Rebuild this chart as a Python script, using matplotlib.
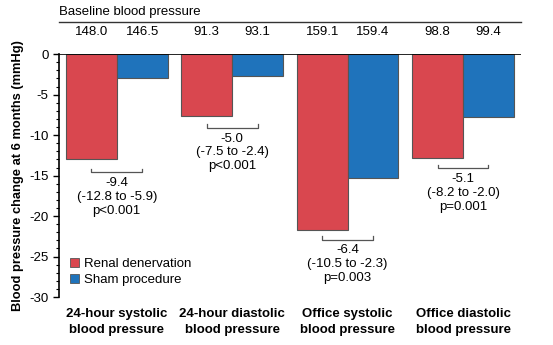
import matplotlib
matplotlib.use("Agg")
import matplotlib.pyplot as plt
import numpy as np
from matplotlib.patches import Patch
from matplotlib.ticker import MultipleLocator

plt.rcParams['font.family'] = ['Liberation Sans', 'DejaVu Sans']

# Data
categories = ['24-hour systolic\nblood pressure', '24-hour diastolic\nblood pressure',
              'Office systolic\nblood pressure', 'Office diastolic\nblood pressure']
renal = [-13.0, -7.65, -21.7, -12.8]
sham = [-3.0, -2.7, -15.3, -7.8]
baseline_renal = ['148.0', '91.3', '159.1', '98.8']
baseline_sham = ['146.5', '93.1', '159.4', '99.4']
diff_text = ['-9.4\n(-12.8 to -5.9)\np<0.001',
             '-5.0\n(-7.5 to -2.4)\np<0.001',
             '-6.4\n(-10.5 to -2.3)\np=0.003',
             '-5.1\n(-8.2 to -2.0)\np=0.001']
bracket_y = [-14.6, -9.1, -22.9, -14.1]

red = '#d9474f'
blue = '#1f73bb'
edge = '#555555'

fig = plt.figure(figsize=(5.53, 3.45), dpi=100)
ax = fig.add_axes([0.1067, 0.139, 0.835, 0.704])

x = np.arange(len(categories))
w = 0.44
ax.bar(x - w / 2, renal, w, color=red, edgecolor=edge, linewidth=0.8, label='Renal denervation')
ax.bar(x + w / 2, sham, w, color=blue, edgecolor=edge, linewidth=0.8, label='Sham procedure')

ax.set_xlim(-0.5, 3.5)
ax.set_ylim(-30, 0)
ax.axhline(0, color='black', linewidth=1.2, zorder=3)

for s in ['top', 'right', 'bottom']:
    ax.spines[s].set_visible(False)
ax.spines['left'].set_linewidth(1.2)
ax.yaxis.set_major_locator(MultipleLocator(5))
ax.yaxis.set_minor_locator(MultipleLocator(1))
ax.tick_params(axis='y', which='major', length=4, width=1, labelsize=9.5)
ax.tick_params(axis='y', which='minor', length=2, width=0.8)
ax.set_yticklabels([f'{int(v)}' for v in ax.get_yticks()])
ax.set_xticks([])
ax.set_ylabel('Blood pressure change at 6 months (mmHg)', fontsize=9.3, fontweight='bold', labelpad=4)

# baseline header
ax.plot([-0.5, 3.5], [4.0, 4.0], color='#333333', linewidth=1.0, clip_on=False)
ax.text(-0.5, 5.2, 'Baseline blood pressure', fontsize=9.5, ha='left', va='center')
for i in range(len(categories)):
    ax.text(x[i] - w / 2, 2.7, baseline_renal[i], fontsize=9.5, ha='center', va='center')
    ax.text(x[i] + w / 2, 2.7, baseline_sham[i], fontsize=9.5, ha='center', va='center')

# difference brackets
for i in range(len(categories)):
    x0, x1 = x[i] - w / 2, x[i] + w / 2
    y0 = bracket_y[i]
    ax.plot([x0, x0, x1, x1], [y0 + 0.45, y0, y0, y0 + 0.45], color=edge, linewidth=0.9)
    ax.text(x[i], y0 - 0.6, diff_text[i], fontsize=9.5, ha='center', va='top', linespacing=1.2)

# category labels
for i in range(len(categories)):
    ax.text(x[i], -31.3, categories[i], fontsize=9.5, fontweight='bold', ha='center', va='top',
            linespacing=1.45, clip_on=False)

handles = [Patch(facecolor=red, edgecolor=edge, linewidth=0.6),
           Patch(facecolor=blue, edgecolor=edge, linewidth=0.6)]
ax.legend(handles, ['Renal denervation', 'Sham procedure'], loc='lower left',
          bbox_to_anchor=(0.0, 0.0), frameon=False, fontsize=9.5, handlelength=0.7,
          handleheight=0.7, handletextpad=0.4, labelspacing=0.3, borderaxespad=0.4)

fig.savefig('out.png', dpi=100)
